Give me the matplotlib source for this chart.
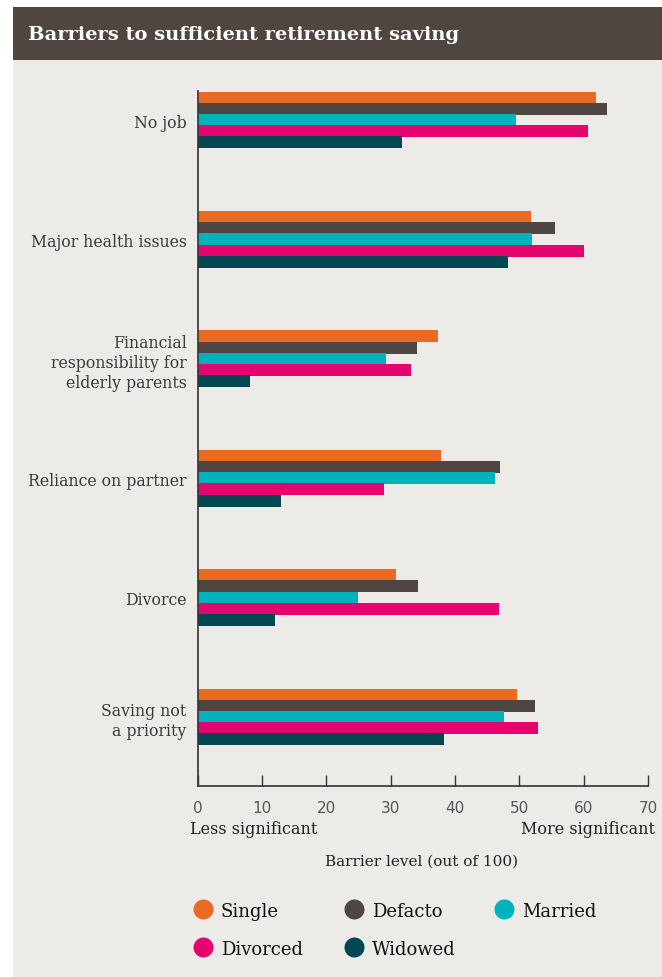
import matplotlib
matplotlib.use("Agg")
import matplotlib.pyplot as plt
from matplotlib.patches import Rectangle
from matplotlib.lines import Line2D
import numpy as np

categories = ["No job", "Major health issues", "Financial\nresponsibility for\nelderly parents",
              "Reliance on partner", "Divorce", "Saving not\na priority"]
series_names = ["Single", "Defacto", "Married", "Divorced", "Widowed"]
single   = [61.9, 51.8, 37.4, 37.8, 30.8, 49.6]
defacto  = [63.6, 55.5, 34.1, 47.0, 34.2, 52.4]
married  = [49.5, 52.0, 29.3, 46.2, 24.9, 47.6]
divorced = [60.7, 60.1, 33.2, 29.0, 46.8, 52.9]
widowed  = [31.8, 48.2,  8.1, 12.9, 12.0, 38.3]
xticks = [0, 10, 20, 30, 40, 50, 60, 70]

colors = ["#EA6A22", "#4F4641", "#00B2BB", "#E5056F", "#024752"]
bg = "#EDEBE7"
W, H = 662, 978

fig = plt.figure(figsize=(W / 100, H / 100), dpi=100, facecolor="white")
# panel background and title bar
fig.add_artist(Rectangle((13 / W, 0), 1 - 13 / W, 1 - 61 / H, transform=fig.transFigure,
                         facecolor=bg, edgecolor="none", zorder=0))
fig.add_artist(Rectangle((13 / W, 1 - 61 / H), 1 - 13 / W, 53 / H, transform=fig.transFigure,
                         facecolor="#4F4641", edgecolor="none", zorder=0))
fig.text(28 / W, 1 - 35 / H, "Barriers to sufficient retirement saving", color="white",
         fontsize=14, fontweight="bold", family="DejaVu Serif", va="center", ha="left")

ax = fig.add_axes([197.7 / W, 1 - 787 / H, (648 - 197.7) / W, (787 - 92) / H])
ax.set_facecolor("none")

y = np.arange(len(categories))
step = 0.094
bh = 0.1
data = [single, defacto, married, divorced, widowed]
for k, (vals, c) in enumerate(zip(data, colors)):
    ax.barh(y + (k - 2) * step, vals, height=bh, color=c, edgecolor="none", zorder=2)

ax.set_xlim(0, 70)
ax.set_ylim(5.578, -0.243)
ax.set_yticks(y)
ax.set_yticklabels(categories, family="DejaVu Serif", fontsize=11.3, color="#3a3a3a",
                   linespacing=1.22)
ax.tick_params(axis="y", length=0, pad=8)
ax.set_xticks(xticks)
ax.set_xticklabels([str(t) for t in xticks], fontsize=11, color="#555555", family="DejaVu Sans")
ax.tick_params(axis="x", direction="in", length=8, width=1, color="#333333", pad=10)
for s in ["top", "right"]:
    ax.spines[s].set_visible(False)
for s in ["left", "bottom"]:
    ax.spines[s].set_color("#333333")
    ax.spines[s].set_linewidth(1.2)

fig.text(190 / W, 1 - 830 / H, "Less significant", ha="left", va="center",
         family="DejaVu Serif", fontsize=11.5, color="#222222")
fig.text(655 / W, 1 - 830 / H, "More significant", ha="right", va="center",
         family="DejaVu Serif", fontsize=11.5, color="#222222")
fig.text(422 / W, 1 - 862 / H, "Barrier level (out of 100)", ha="center", va="center",
         family="DejaVu Serif", fontsize=11, color="#222222")

# legend
pos = [(203, 910), (354, 910), (504, 910), (203, 948), (354, 948)]
for (px, py), name, c in zip(pos, series_names, colors):
    fig.add_artist(Line2D([px / W], [1 - py / H], marker="o", markersize=14.4, color=c,
                          markeredgecolor="none", linestyle="none", transform=fig.transFigure))
    fig.text((px + 18) / W, 1 - (py + 2) / H, name, ha="left", va="center",
             family="DejaVu Serif", fontsize=13, color="#111111")

fig.savefig("out.png", dpi=100, facecolor=fig.get_facecolor())
